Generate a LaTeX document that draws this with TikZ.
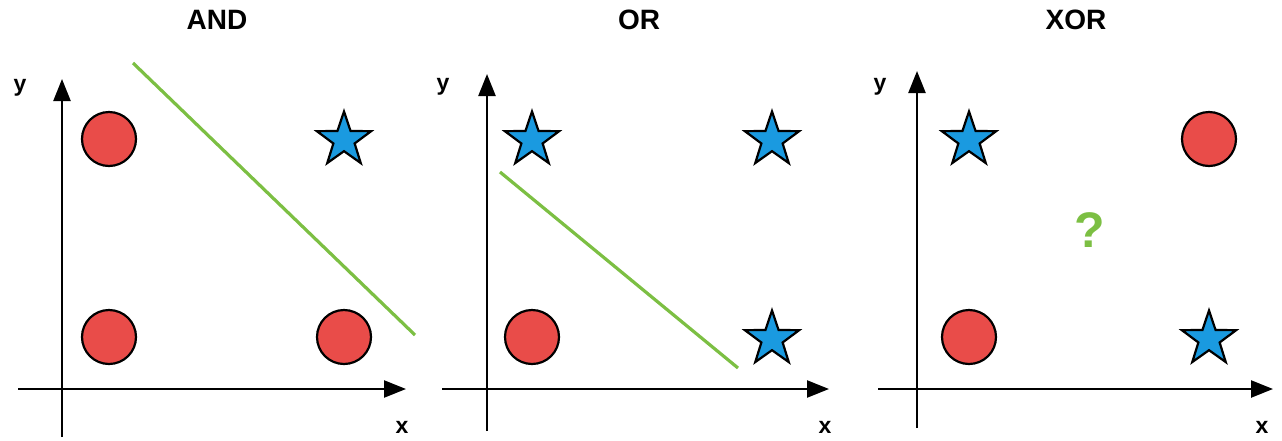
\documentclass[tikz,border=0pt]{standalone}
\usepackage{fontspec}
\setmainfont{Liberation Sans}
\usetikzlibrary{shapes.geometric,arrows.meta}
\definecolor{dotred}{HTML}{E94C49}
\definecolor{starblue}{HTML}{1A9AE0}
\definecolor{sepgreen}{HTML}{7CBF43}
\tikzset{
  axis/.style={line width=2.4pt, -{Triangle[length=22pt,width=17pt]}},
  dot/.style={circle, draw=black, line width=2.2pt, fill=dotred, minimum size=54pt, inner sep=0pt},
  starpt/.style={star, star points=5, star point ratio=2.55, draw=black, line width=2.2pt, fill=starblue, minimum size=57pt, inner sep=0pt},
  sepline/.style={draw=sepgreen, line width=3.2pt},
  ttl/.style={font=\bfseries\fontsize{28}{32}\selectfont, inner sep=0pt},
  axlab/.style={font=\bfseries\fontsize{23}{27}\selectfont, inner sep=0pt}
}
\begin{document}
\begin{tikzpicture}[x=1pt,y=-1pt]
\useasboundingbox (0,0) rectangle (1282,440);
% ---------- AND ----------
\node[ttl] (t1) at (217,20) {AND};
\coordinate (y1s) at (62,437);
\coordinate (y1e) at (62,79);
\coordinate (x1s) at (18,389);
\coordinate (x1e) at (406,389);
\draw[axis] (y1s) -- (y1e);
\draw[axis] (x1s) -- (x1e);
\node[axlab] (ly1) at (20,88) {y};
\node[axlab] (lx1) at (402,427) {x};
\node[dot] (a00) at (109,337) {};
\node[dot] (a01) at (109,139) {};
\node[dot] (a10) at (344,337) {};
\node[starpt] (a11) at (344,140) {};
\coordinate (g1s) at (133,63);
\coordinate (g1e) at (415,335);
\draw[sepline] (g1s) -- (g1e);
% ---------- OR ----------
\node[ttl] (t2) at (639,20) {OR};
\coordinate (y2s) at (487,431);
\coordinate (y2e) at (487,74);
\coordinate (x2s) at (442,389);
\coordinate (x2e) at (829,389);
\draw[axis] (y2s) -- (y2e);
\draw[axis] (x2s) -- (x2e);
\node[axlab] (ly2) at (443,87) {y};
\node[axlab] (lx2) at (825,427) {x};
\node[dot] (o00) at (532,337) {};
\node[starpt] (o01) at (532,140) {};
\node[starpt] (o10) at (772,339) {};
\node[starpt] (o11) at (772,140) {};
\coordinate (g2s) at (500,172);
\coordinate (g2e) at (738,368);
\draw[sepline] (g2s) -- (g2e);
% ---------- XOR ----------
\node[ttl] (t3) at (1076,20) {XOR};
\coordinate (y3s) at (917,428);
\coordinate (y3e) at (917,71);
\coordinate (x3s) at (878,389);
\coordinate (x3e) at (1273,389);
\draw[axis] (y3s) -- (y3e);
\draw[axis] (x3s) -- (x3e);
\node[axlab] (ly3) at (880,87) {y};
\node[axlab] (lx3) at (1262,427) {x};
\node[dot] (x00) at (969,337) {};
\node[starpt] (x01) at (969,140) {};
\node[starpt] (x10) at (1209,339) {};
\node[dot] (x11) at (1209,139) {};
\node[font=\bfseries\fontsize{50}{56}\selectfont, text=sepgreen, inner sep=0pt] (q) at (1090,230) {?};
\end{tikzpicture}
\end{document}
